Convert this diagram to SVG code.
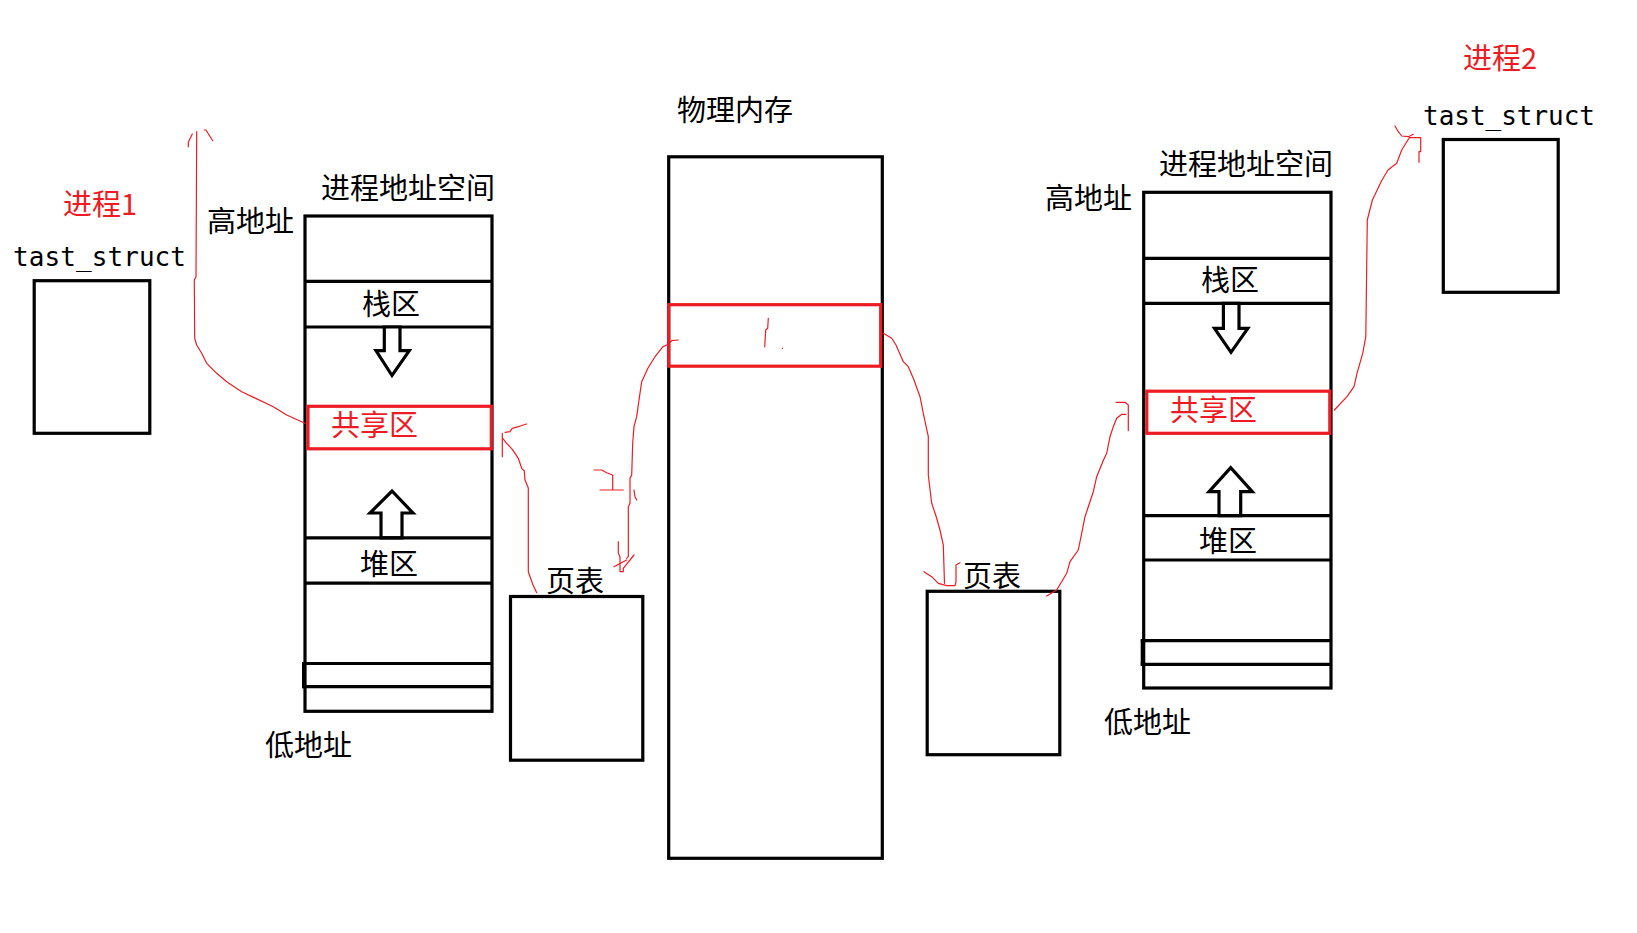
<svg xmlns="http://www.w3.org/2000/svg" width="1637" height="933" viewBox="0 0 1637 933">
<style>
.box{fill:none;stroke:#000;stroke-width:3.2}
.blk{fill:#fff;stroke:#000;stroke-width:3.2;stroke-linejoin:miter}
.ln{stroke:#000;stroke-width:3.2;fill:none}
.rbox{fill:none;stroke:#ed1c24;stroke-width:3.2}
.t{font-family:"Noto Sans CJK SC","Noto Sans",sans-serif;font-size:29px;fill:#000}
.tr{font-family:"Noto Sans CJK SC","Noto Sans",sans-serif;font-size:29px;fill:#ed1c24}
.m{font-family:"DejaVu Sans Mono","Liberation Mono",monospace;font-size:26px;fill:#000}
.c{fill:none;stroke:#ed1c24;stroke-width:1.2;stroke-linejoin:round;stroke-linecap:round}
</style>
<rect width="1637" height="933" fill="#fff"/>

<g id="process1">
<text class="tr" x="63" y="215">进程1</text>
</g>
<g id="task_struct1">
<text class="m" x="13" y="266" textLength="173" lengthAdjust="spacing">tast_struct</text>
<rect class="box" x="34.2" y="280.7" width="115.6" height="152.6"/>
</g>

<g id="addr_space1">
<text class="t" x="321" y="199">进程地址空间</text>
<text class="t" x="207" y="232">高地址</text>
<rect class="box" x="305" y="216" width="187" height="495.3"/>
<line class="ln" x1="305" y1="281.3" x2="492" y2="281.3"/>
<line class="ln" x1="305" y1="327" x2="492" y2="327"/>
<text class="t" x="362" y="315">栈区</text>
<polygon class="blk" points="384.3,327 384.3,350.7 376,350.7 392,375.5 409.3,350.7 400,350.7 400,327"/>
<rect class="rbox" x="308" y="406.3" width="183.3" height="42.5"/>
<text class="tr" x="331" y="436">共享区</text>
<polygon class="blk" points="381,537.8 381,513 370,513 392,491 413,513 402,513 402,537.8"/>
<line class="ln" x1="305" y1="537.8" x2="492" y2="537.8"/>
<line class="ln" x1="305" y1="583.2" x2="492" y2="583.2"/>
<text class="t" x="360" y="575">堆区</text>
<line class="ln" x1="302.2" y1="663.5" x2="492" y2="663.5"/>
<line class="ln" x1="302.2" y1="686.7" x2="492" y2="686.7"/>
<line class="ln" x1="303.6" y1="662" x2="303.6" y2="688.2"/>
<text class="t" x="265" y="756">低地址</text>
</g>

<g id="page_table1">
<text class="t" x="546" y="592">页表</text>
<rect class="box" x="510.5" y="596.5" width="132.3" height="163.7"/>
</g>

<g id="phys_mem">
<text class="t" x="677" y="121">物理内存</text>
<rect class="box" x="668.7" y="156.8" width="213.6" height="701.5"/>
<rect class="rbox" x="668.7" y="304.7" width="212" height="61.5"/>
</g>

<g id="page_table2">
<text class="t" x="963" y="587">页表</text>
<rect class="box" x="927.2" y="591.3" width="132.6" height="163.4"/>
</g>

<g id="addr_space2">
<text class="t" x="1159" y="175">进程地址空间</text>
<text class="t" x="1045" y="208.7">高地址</text>
<rect class="box" x="1143.7" y="192.3" width="187.3" height="495.7"/>
<line class="ln" x1="1143.7" y1="258.3" x2="1331" y2="258.3"/>
<line class="ln" x1="1143.7" y1="303.3" x2="1331" y2="303.3"/>
<text class="t" x="1201" y="291">栈区</text>
<polygon class="blk" points="1223.4,303.3 1223.4,328.3 1214.5,328.3 1231,352.3 1247.8,328.3 1239,328.3 1239,303.3"/>
<rect class="rbox" x="1146.8" y="391.2" width="183" height="42.1"/>
<text class="tr" x="1170" y="421">共享区</text>
<polygon class="blk" points="1219,515.7 1219,491.7 1209,491.7 1230.7,467.7 1252.3,491.7 1240.7,491.7 1240.7,515.7"/>
<line class="ln" x1="1143.7" y1="515.7" x2="1331" y2="515.7"/>
<line class="ln" x1="1143.7" y1="560" x2="1331" y2="560"/>
<text class="t" x="1199" y="552">堆区</text>
<line class="ln" x1="1140.8" y1="640.7" x2="1331" y2="640.7"/>
<line class="ln" x1="1140.8" y1="664.3" x2="1331" y2="664.3"/>
<line class="ln" x1="1142.3" y1="639.2" x2="1142.3" y2="665.8"/>
<text class="t" x="1104" y="733">低地址</text>
</g>

<g id="process2">
<text class="tr" x="1463" y="68.7">进程2</text>
</g>
<g id="task_struct2">
<text class="m" x="1423" y="125" textLength="172" lengthAdjust="spacing">tast_struct</text>
<rect class="box" x="1443.3" y="139.5" width="114.9" height="152.8"/>
</g>

<g id="connectors">
<path class="c" d="M305,423.3 L286.7,415 L273.3,406.7 L241.7,391.7 L226.7,381.7 L216.7,373.3 L206.7,363.3 L201.7,353.3 L196.7,345 L194.7,338.3 L194.3,280 L196,276.7 L196.7,131.7"/>
<path class="c" d="M188.3,146.7 L188.3,142.3 L192.3,134 M204.3,130 L206,130 L212.7,140.7"/>

<path class="c" d="M536.7,592.7 L533,585 L528.3,571.7 L528.3,488 L525,480 L524.3,471 L521.7,468.3 L520,463.3 L518.3,458.3 L515,453.3 L512.3,449.3 L506.7,443.3 L502.7,438.3"/>
<path class="c" d="M502.3,456.7 L502.3,433.3 M505,432.3 L510,431.7 L512.3,428.3 L518.3,426.7 L523.3,425 L526.7,424"/>

<path class="c" d="M678.3,340 L671.7,340.7 L666.7,345 L663,346.7 L655,356.7 L648,368 L641.7,381.7 L639,400 L636.7,416.7 L634,426.7 L632.7,443.3 L631.7,475 L630,478.3 L630,503.3 L628.3,506.7 L628.3,556.7 L626.7,558.3"/>
<path class="c" d="M618.3,541.7 L618.3,553.3 L620,556.7 L620,571.7 L623.3,571.7 L623.3,568.3 L634,555 M614,566.7 L626.7,560"/>
<path class="c" d="M594,470 L601.7,470 L606.7,472.7 L612.7,475 L612.7,490 M600,490 L623.3,490 M634,490 L635,496.7 L636.7,500"/>
<path class="c" d="M768.3,318.3 L767.7,328.3 L765.7,330 L764.7,346.7"/>
<rect x="781.8" y="347.8" width="1.2" height="1.2" fill="#ed1c24"/>

<path class="c" d="M883.3,333.3 L891.7,338.3 L896,345 L903.3,361.7 L908.3,366.7 L914,380 L920,396.7 L923.3,413.3 L928.3,436.7 L928.3,475 L931.7,503.3 L936,516 L940,530 L943.3,545 L944.5,583.3"/>
<path class="c" d="M924,571.7 L931.7,576.7 L938.3,583.3 L946.7,585.7 L955,585.7 L956,581.7 L956,565 L960,562.7"/>

<path class="c" d="M1046.7,596 L1056.7,590 L1066.7,573.3 L1070,561.7 L1078.3,550 L1081.7,533.3 L1085,516.7 L1088.3,506.7 L1093.3,491.7 L1096.7,476.7 L1103.5,460 L1106.7,453.3 L1110,436.7 L1113.3,426.7 L1116.7,418.3 L1121.7,414.3 L1126,414.3"/>
<path class="c" d="M1116,402.3 L1125,402.3 L1128.3,405 L1128.3,430.7"/>

<path class="c" d="M1334.4,410 L1347,396.7 L1354,386.7 L1357,373.3 L1362.7,353.3 L1365.8,336.7 L1367.3,220 L1372.4,200 L1382,180 L1388,170 L1396.7,163.3 L1401.7,150 L1409,138.3"/>
<path class="c" d="M1395,126 L1398.3,131.7 L1401.7,136 L1408.3,136.7 L1413.3,134.3 M1409.3,137.7 L1420.7,137.7 L1420.7,151.7 L1419,151.7 L1419,162.3"/>
</g>
</svg>
